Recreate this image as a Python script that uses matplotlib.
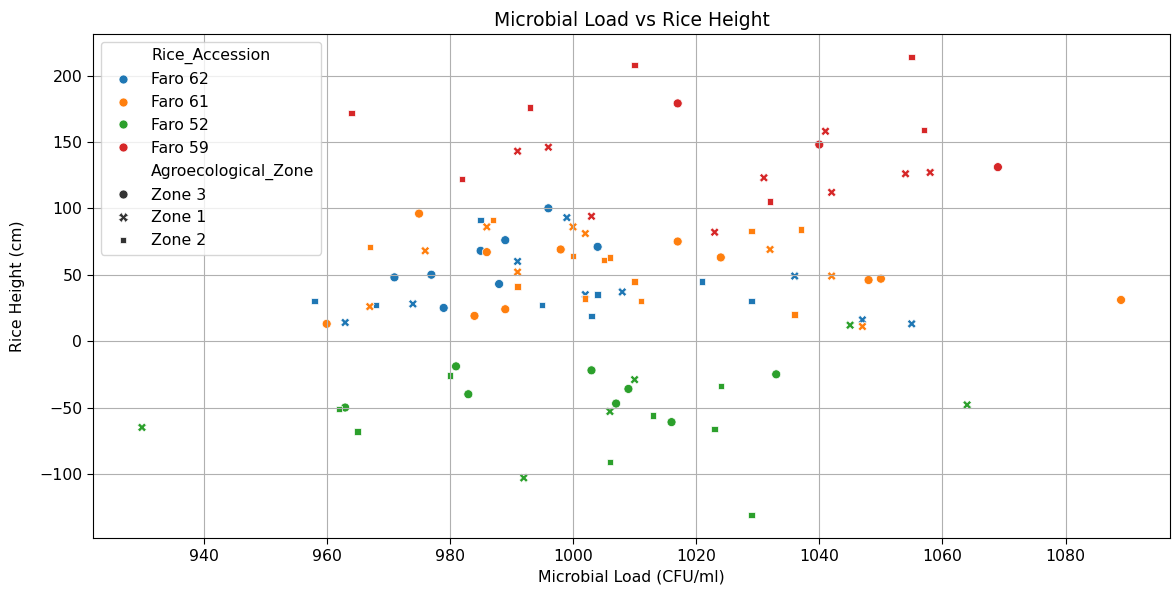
import matplotlib
matplotlib.use("Agg")
import matplotlib.pyplot as plt
import pandas as pd
import seaborn as sns

# Faro 62
f62_zone3_load = [996, 989, 985, 971, 977, 988, 979, 1004]
f62_zone3_height = [100, 76, 68, 48, 50, 43, 25, 71]
f62_zone1_load = [991, 974, 963, 999, 1002, 1008, 1036, 1047, 1055]
f62_zone1_height = [60, 28, 14, 93, 35, 37, 49, 16, 13]
f62_zone2_load = [985, 958, 968, 995, 1021, 1004, 1029, 1003]
f62_zone2_height = [91, 30, 27, 27, 45, 35, 30, 19]

# Faro 61
f61_zone3_load = [975, 986, 984, 989, 960, 1017, 998, 1024, 1048, 1050, 1089]
f61_zone3_height = [96, 67, 19, 24, 13, 75, 69, 63, 46, 47, 31]
f61_zone1_load = [986, 976, 991, 967, 1000, 1002, 1032, 1042, 1047]
f61_zone1_height = [86, 68, 52, 26, 86, 81, 69, 49, 11]
f61_zone2_load = [987, 967, 991, 1000, 1005, 1006, 1010, 1002, 1011, 1029, 1037, 1036]
f61_zone2_height = [91, 71, 41, 64, 61, 63, 45, 32, 30, 83, 84, 20]

# Faro 52
f52_zone3_load = [981, 983, 963, 1003, 1009, 1007, 1016, 1033]
f52_zone3_height = [-19, -40, -50, -22, -36, -47, -61, -25]
f52_zone1_load = [992, 1010, 1006, 1045, 930, 1064]
f52_zone1_height = [-103, -29, -53, 12, -65, -48]
f52_zone2_load = [980, 962, 965, 1013, 1024, 1023, 1006, 1029]
f52_zone2_height = [-26, -51, -68, -56, -34, -66, -91, -131]

# Faro 59
f59_zone3_load = [1017, 1040, 1069]
f59_zone3_height = [179, 148, 131]
f59_zone1_load = [991, 996, 1031, 1003, 1023, 1041, 1054, 1058, 1042]
f59_zone1_height = [143, 146, 123, 94, 82, 158, 126, 127, 112]
f59_zone2_load = [982, 1032, 1057, 964, 993, 1010, 1055]
f59_zone2_height = [122, 105, 159, 172, 176, 208, 214]

accessions = ["Faro 62", "Faro 61", "Faro 52", "Faro 59"]
zones = ["Zone 3", "Zone 1", "Zone 2"]

groups = {
    ("Faro 62", "Zone 3"): (f62_zone3_load, f62_zone3_height),
    ("Faro 62", "Zone 1"): (f62_zone1_load, f62_zone1_height),
    ("Faro 62", "Zone 2"): (f62_zone2_load, f62_zone2_height),
    ("Faro 61", "Zone 3"): (f61_zone3_load, f61_zone3_height),
    ("Faro 61", "Zone 1"): (f61_zone1_load, f61_zone1_height),
    ("Faro 61", "Zone 2"): (f61_zone2_load, f61_zone2_height),
    ("Faro 52", "Zone 3"): (f52_zone3_load, f52_zone3_height),
    ("Faro 52", "Zone 1"): (f52_zone1_load, f52_zone1_height),
    ("Faro 52", "Zone 2"): (f52_zone2_load, f52_zone2_height),
    ("Faro 59", "Zone 3"): (f59_zone3_load, f59_zone3_height),
    ("Faro 59", "Zone 1"): (f59_zone1_load, f59_zone1_height),
    ("Faro 59", "Zone 2"): (f59_zone2_load, f59_zone2_height),
}

rows = []
for (acc, zone), (loads, heights) in groups.items():
    for l, h in zip(loads, heights):
        rows.append({"Microbial_Load": l, "Rice_Height": h,
                     "Rice_Accession": acc, "Agroecological_Zone": zone})
df = pd.DataFrame(rows)

# reference text is a bit bigger than the 10pt default
plt.rcParams["font.size"] = 11.3
plt.rcParams["axes.titlesize"] = 13.5
plt.rcParams["xtick.major.size"] = 4.2
plt.rcParams["ytick.major.size"] = 4.2

fig = plt.figure(figsize=(11.72, 5.90), dpi=100)
ax = fig.add_axes([93 / 1172, 52 / 590, (1170 - 93) / 1172, (538 - 34) / 590])

sns.scatterplot(data=df, x="Microbial_Load", y="Rice_Height",
                hue="Rice_Accession", style="Agroecological_Zone",
                hue_order=accessions, style_order=zones, s=42, ax=ax)

ax.set_title("Microbial Load vs Rice Height")
ax.set_xlabel("Microbial Load (CFU/ml)")
ax.set_ylabel("Rice Height (cm)", labelpad=10)
ax.grid(True)
ax.legend(loc="upper left")

fig.savefig("out.png", dpi=100)
